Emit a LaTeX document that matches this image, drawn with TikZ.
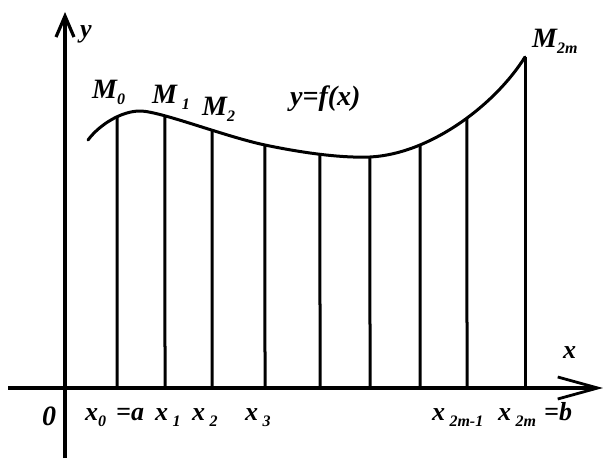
\documentclass[tikz,border=0pt]{standalone}
\usepackage{fontspec}
\setmainfont{Liberation Serif}
\usetikzlibrary{arrows.meta,intersections}
\newcommand{\lsub}[1]{\raisebox{-6pt}{\fontsize{16}{16}\selectfont #1}}
\begin{document}
\begin{tikzpicture}[x=1pt,y=-1pt,
  axis/.style={line width=3.4pt},
  curve/.style={line width=3pt, line join=round, line cap=round},
  ordinate/.style={line width=3pt},
  lbl/.style={inner sep=0pt, anchor=base west, font=\fontsize{28}{28}\selectfont\bfseries\itshape},
  xlbl/.style={inner sep=0pt, anchor=base west, font=\fontsize{26}{26}\selectfont\bfseries\itshape}]
\useasboundingbox (0,0) rectangle (603,460);
% axes
\coordinate (xs) at (8,388);
\coordinate (xe) at (603,388);
\coordinate (ys) at (65,458);
\coordinate (ye) at (65,12);
\draw[axis, -{Straight Barb[length=40pt,width=22pt,line width=2.8pt]}] (xs) -- (xe);
\draw[axis, -{Straight Barb[length=21pt,width=18pt,line width=3.2pt]}] (ys) -- (ye);
% curve y = f(x)
\coordinate (c0) at (88,140);
\coordinate (c1) at (140,111);
\coordinate (c2) at (265,145);
\coordinate (c3) at (370,157);
\coordinate (c4) at (525,57);
\draw[curve, name path=fcurve] (c0) .. controls (100,124) and (122,111) .. (c1)
  .. controls (160,111) and (225,136.6) .. (c2)
  .. controls (300,152.4) and (340,158.2) .. (c3)
  .. controls (430,154) and (495,105) .. (c4);
% ordinates
\foreach \px [count=\i] in {117,165,212,265,320,370,420,467}{
  \path[name path=v\i] (\px,0) -- (\px,400);
  \path[name intersections={of=fcurve and v\i, by={m\i}}];
  \coordinate (b\i) at (\px,388);
  \draw[ordinate] (b\i) -- (m\i);
}
\coordinate (b9) at (525,388);
\draw[ordinate] (b9) -- (c4);
% labels
\node[lbl] (M0) at (92,99) {M\lsub{0}};
\node[lbl] (M1) at (152,103) {M\,\lsub{1}};
\node[lbl] (M2) at (202,115) {M\lsub{2}};
\node[lbl] (M2m) at (532,48) {M\lsub{2m}};
\node[lbl] (fx) at (290,106) {y=f(x)};
\node[xlbl] (ylab) at (80,38) {y};
\node[xlbl] (xlab) at (563,358) {x};
\node[lbl] (O) at (42,425) {0};
\node[xlbl] (x0) at (85,420) {x\lsub{0}};
\node[xlbl] (ea) at (116,420) {=a};
\node[xlbl] (x1) at (155,420) {x\,\lsub{1}};
\node[xlbl] (x2) at (192,420) {x\,\lsub{2}};
\node[xlbl] (x3) at (245,420) {x\,\lsub{3}};
\node[xlbl] (x2m1) at (432,420) {x\,\lsub{2m-1}};
\node[xlbl] (x2m) at (498,420) {x\,\lsub{2m}};
\node[xlbl] (eb) at (544,420) {=b};
\end{tikzpicture}
\end{document}
